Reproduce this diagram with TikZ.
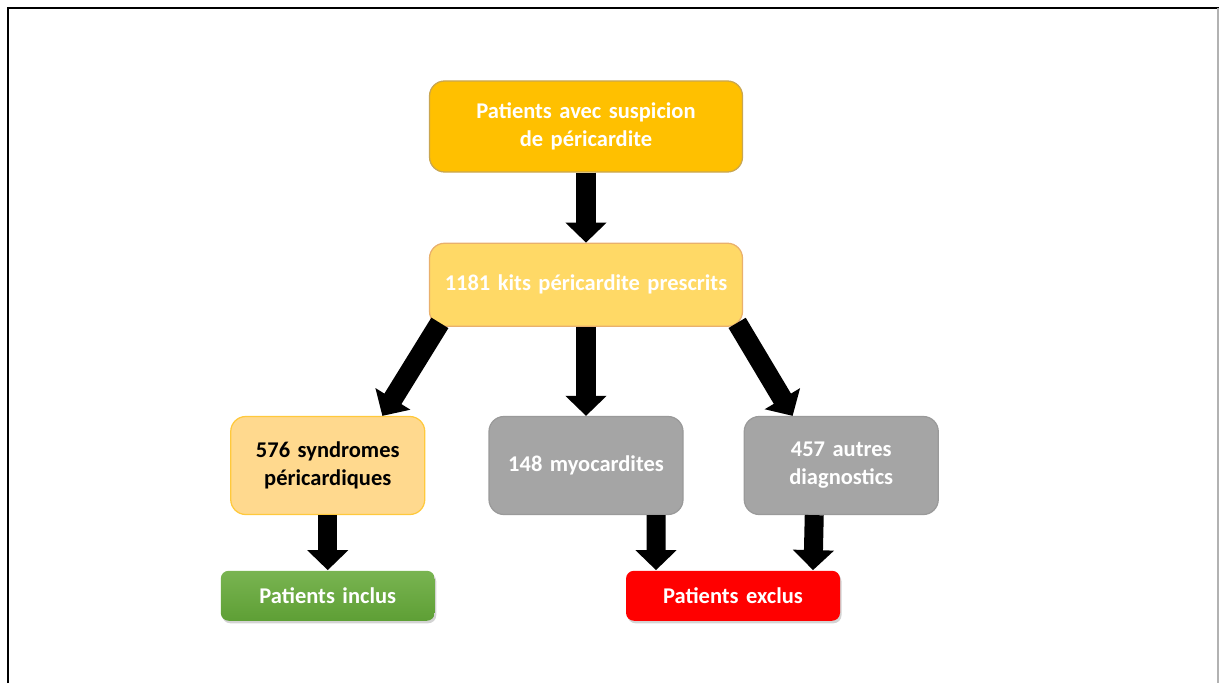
\documentclass[tikz,border=0pt]{standalone}
\usepackage{fontspec}
\setmainfont{Carlito}
\usepackage{xcolor}
\usepackage{tikz}
\usetikzlibrary{arrows.meta,positioning,shadows}
\definecolor{suspFill}{HTML}{FFC000}
\definecolor{suspEdge}{HTML}{C9A650}
\definecolor{kitFill}{HTML}{FFD966}
\definecolor{kitEdge}{HTML}{E9B06C}
\definecolor{syndFill}{HTML}{FFD98E}
\definecolor{syndEdge}{HTML}{FFC93C}
\definecolor{greyFill}{HTML}{A5A5A5}
\definecolor{greyEdge}{HTML}{9A9A9A}
\definecolor{inclTop}{HTML}{79B451}
\definecolor{inclBot}{HTML}{5E9F35}
\definecolor{exclFill}{HTML}{FF0000}
\tikzset{
  flowbox/.style={draw, line width=0.25mm, rounded corners=3mm, align=center, inner sep=0pt,
                  text=white, font=\bfseries\fontsize{12.8}{15.9}\selectfont},
  diagbox/.style={flowbox, text width=38.8mm, minimum height=19.6mm},
  endbox/.style={flowbox, draw=none, rounded corners=1.6mm, text width=42.8mm, minimum height=10mm,
                 drop shadow={opacity=0.35, shadow xshift=0.3mm, shadow yshift=-0.5mm}},
  blockarrow/.style={-{Triangle[length=4mm, width=8mm]}, line width=4mm}
}
\begin{document}
\begin{tikzpicture}[x=1mm, y=1mm, node distance=17.8mm and 12.6mm]
\useasboundingbox (0,0) rectangle (243.8,-136.6);
% frame
\draw[line width=0.4mm] (1.6,-136.6) -- (1.6,-1.6) -- (243.8,-1.6);
\draw[black!30, line width=0.25mm] (243.6,-1.6) -- (243.6,-136.6);

\node[flowbox, fill=suspFill, draw=suspEdge, text width=62.6mm, minimum height=18.2mm] (susp) at (117.2,-25.3) {Patients avec suspicion\\de péricardite};
\node[flowbox, fill=kitFill, draw=kitEdge, text width=62.6mm, minimum height=16.6mm, below=14mm of susp] (kits) {1181 kits péricardite prescrits};
\node[diagbox, fill=greyFill, draw=greyEdge, below=of kits] (myo) {148 myocardites};
\node[diagbox, fill=syndFill, draw=syndEdge, text=black, left=of myo] (synd) {576 syndromes\\péricardiques};
\node[diagbox, fill=greyFill, draw=greyEdge, right=12mm of myo] (autres) {457 autres\\diagnostics};
\node[endbox, top color=inclTop, bottom color=inclBot, below=11mm of synd] (inclus) {Patients inclus};
\node[endbox, fill=exclFill, below=11mm of myo, xshift=29.4mm] (exclus) {Patients exclus};

\draw[blockarrow] (susp) -- (kits);
\draw[blockarrow] (kits) -- (myo);
\draw[blockarrow] ([xshift=2.2mm,yshift=0.8mm]kits.south west) -- ([xshift=-8.6mm]synd.north east);
\draw[blockarrow] ([xshift=-1.2mm,yshift=0.8mm]kits.south east) -- ([xshift=9.8mm]autres.north west);
\draw[blockarrow, line width=3.8mm] (synd) -- (inclus);
\draw[blockarrow, line width=3.8mm] ([xshift=14mm]myo.south) -- ([xshift=-15.4mm]exclus.north);
\draw[blockarrow, line width=3.8mm] ([xshift=-5.4mm]autres.south) -- ([xshift=16mm]exclus.north);
\end{tikzpicture}
\end{document}
